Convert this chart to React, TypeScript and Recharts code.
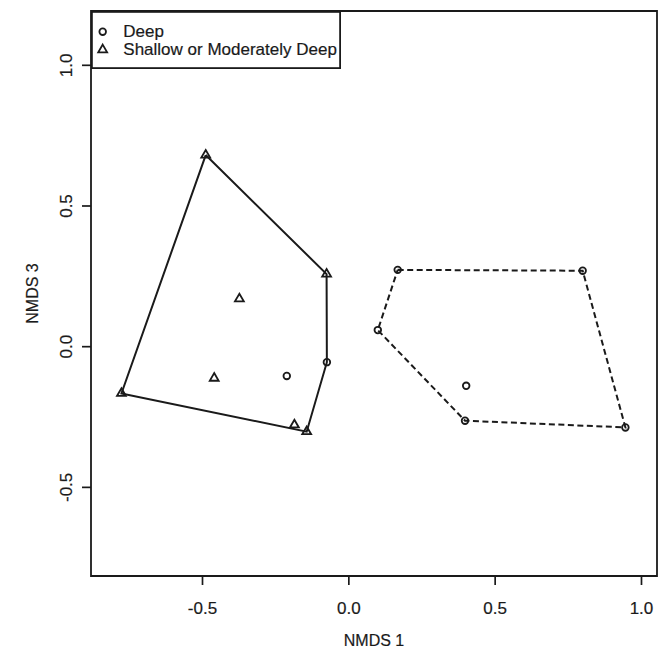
import React from 'react';
import { ScatterChart, Scatter, XAxis, YAxis, ReferenceArea, Legend, Label } from 'recharts';

// Deep sites (circles)
const deepX = [-0.212, -0.075, 0.099, 0.167, 0.799, 0.401, 0.397, 0.945];
const deepY = [-0.104, -0.055, 0.059, 0.273, 0.270, -0.139, -0.263, -0.287];
// Shallow or Moderately Deep sites (triangles)
const shallowX = [-0.489, -0.076, -0.374, -0.460, -0.777, -0.186, -0.144];
const shallowY = [0.681, 0.258, 0.170, -0.112, -0.166, -0.278, -0.302];
// Hull outlines (vertex order, closed)
const solidHullX = [-0.489, -0.076, -0.075, -0.144, -0.777, -0.489];
const solidHullY = [0.681, 0.258, -0.055, -0.302, -0.166, 0.681];
const dashedHullX = [0.167, 0.799, 0.945, 0.397, 0.099, 0.167];
const dashedHullY = [0.273, 0.270, -0.287, -0.263, 0.059, 0.273];

const xTicks = [-0.5, 0.0, 0.5, 1.0];
const yTicks = [-0.5, 0.0, 0.5, 1.0];
const xDomain = [-0.881, 1.053];
const yDomain = [-0.815, 1.193];
const legendLabels = ['Deep', 'Shallow or Moderately Deep'];
const xTitle = 'NMDS 1';
const yTitle = 'NMDS 3';

const FONT = '"Liberation Sans", Arial, Helvetica, sans-serif';
const INK = '#1a1a1a';
const R = 3.3;
const FS = 17;

const zip = (xs: number[], ys: number[]) => xs.map((x, i) => ({ x, y: ys[i] }));
const deepData = zip(deepX, deepY);
const shallowData = zip(shallowX, shallowY);
const solidHull = zip(solidHullX, solidHullY);
const dashedHull = zip(dashedHullX, dashedHullY);

const triPath = (cx: number, cy: number) => {
  const r = 1.555 * R;
  const xc = 1.347 * R;
  const yc = 0.778 * R;
  return `M${cx},${cy - r}L${cx + xc},${cy + yc}L${cx - xc},${cy + yc}Z`;
};

const CircleShape = (p: any) => (
  <circle cx={p.cx} cy={p.cy} r={R} fill="none" stroke={INK} strokeWidth={1.8} />
);
const TriShape = (p: any) => (
  <path d={triPath(p.cx, p.cy)} fill="none" stroke={INK} strokeWidth={1.8} strokeLinejoin="miter" />
);
const NoShape = () => <g />;

const YTick = (p: any) => {
  const { x, y, payload } = p;
  return (
    <text x={x} y={y} transform={`rotate(-90 ${x} ${y})`} textAnchor="middle"
      fontSize={FS} fontFamily={FONT} fill={INK} stroke={INK} strokeWidth={0.2}>
      {Number(payload.value).toFixed(1)}
    </text>
  );
};

const LegendBox = () => (
  <svg width={250} height={58} style={{ display: 'block' }}>
    <rect x={0.9} y={0.9} width={248.2} height={56.2} fill="#fff" stroke={INK} strokeWidth={1.8} />
    <circle cx={11.7} cy={20.7} r={R} fill="none" stroke={INK} strokeWidth={1.8} />
    <path d={triPath(11.7, 38.8)} fill="none" stroke={INK} strokeWidth={1.8} />
    <text x={32.3} y={20.4} dominantBaseline="central" fontSize={FS} fontFamily={FONT} fill={INK}
      stroke={INK} strokeWidth={0.2}>{legendLabels[0]}</text>
    <text x={32.3} y={38.4} dominantBaseline="central" fontSize={FS} fontFamily={FONT} fill={INK}
      stroke={INK} strokeWidth={0.2}>{legendLabels[1]}</text>
  </svg>
);

const XTitle = (p: any) => {
  const vb = p.viewBox || { x: 91, y: 576, width: 566, height: 82 };
  return (
    <text x={vb.x + vb.width / 2} y={vb.y + 70} textAnchor="middle" fontSize={16}
      fontFamily={FONT} fill={INK} stroke={INK} strokeWidth={0.2}>{xTitle}</text>
  );
};
const YTitle = (p: any) => {
  const vb = p.viewBox || { x: 0, y: 11, width: 91, height: 565 };
  const cx = vb.x + 38;
  const cy = vb.y + vb.height / 2;
  return (
    <text x={cx} y={cy} transform={`rotate(-90 ${cx} ${cy})`} textAnchor="middle" fontSize={16}
      fontFamily={FONT} fill={INK} stroke={INK} strokeWidth={0.2}>{yTitle}</text>
  );
};

export default function App() {
  return (
    <div style={{ position: 'absolute', left: 0, top: 0, background: '#fff' }}>
      <ScatterChart width={668} height={658} margin={{ top: 11, right: 11, bottom: 0, left: 0 }}>
        <XAxis type="number" dataKey="x" domain={xDomain} ticks={xTicks} allowDataOverflow
          height={82} axisLine={false} tickSize={9} tickMargin={17}
          tickLine={{ stroke: INK, strokeWidth: 1.7 }}
          tick={{ fontSize: FS, fontFamily: FONT, fill: INK, stroke: INK, strokeWidth: 0.2 }}
          tickFormatter={(v: number) => v.toFixed(1)}>
          <Label content={XTitle} />
        </XAxis>
        <YAxis type="number" dataKey="y" domain={yDomain} ticks={yTicks} allowDataOverflow
          width={91} axisLine={false} tickSize={9} tickMargin={10}
          tickLine={{ stroke: INK, strokeWidth: 1.7 }} tick={YTick}>
          <Label content={YTitle} />
        </YAxis>
        <ReferenceArea x1={xDomain[0]} x2={xDomain[1]} y1={yDomain[0]} y2={yDomain[1]}
          fill="none" fillOpacity={0} stroke={INK} strokeWidth={1.8} />
        <Scatter data={solidHull} shape={NoShape} line={{ stroke: INK, strokeWidth: 2 }}
          lineType="joint" isAnimationActive={false} legendType="none" />
        <Scatter data={dashedHull} shape={NoShape}
          line={{ stroke: INK, strokeWidth: 2, strokeDasharray: '6 3.5' }}
          lineType="joint" isAnimationActive={false} legendType="none" />
        <Scatter data={deepData} shape={CircleShape} isAnimationActive={false} name={legendLabels[0]} />
        <Scatter data={shallowData} shape={TriShape} isAnimationActive={false} name={legendLabels[1]} />
        <Legend content={LegendBox} layout="horizontal" verticalAlign="middle" align="center"
          wrapperStyle={{ left: 91, top: 11, width: 250, height: 58 }} />
      </ScatterChart>
    </div>
  );
}
